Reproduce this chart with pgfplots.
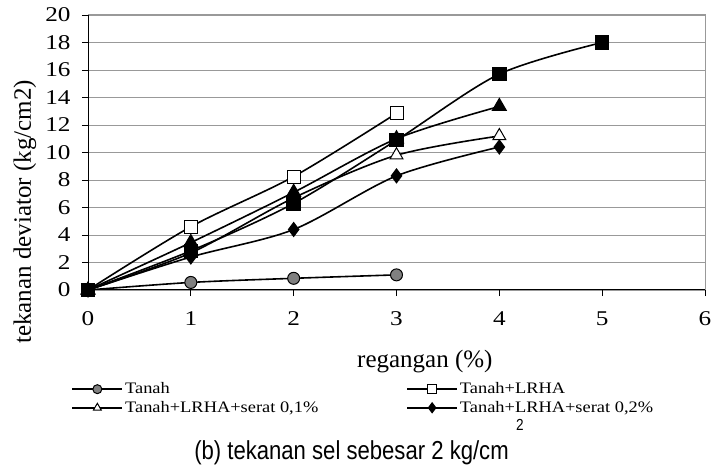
\documentclass[border=0pt]{standalone}
\usepackage{pgfplots}
\pgfplotsset{compat=1.18}
\usepackage{fontspec}
\setmainfont{Liberation Serif}
\newfontfamily\tickfont[FakeStretch=1.2]{Liberation Serif}
\newfontfamily\legfont[FakeStretch=1.15]{Liberation Serif}
\newfontfamily\capfont[FakeStretch=0.85]{Liberation Sans}
\begin{document}
\begin{tikzpicture}
\useasboundingbox (-88pt,-183pt) rectangle (623pt,290pt);
\begin{axis}[
  at={(0,0)}, anchor=south west,
  scale only axis, width=617pt, height=275pt,
  xmin=0, xmax=6, ymin=0, ymax=20,
  xtick={0,1,2,3,4,5,6}, ytick={0,2,...,20},
  tick pos=left, tick align=outside,
  major tick length=6pt,
  tick style={black, line width=0.8pt},
  ymajorgrids, grid style={gray!80, line width=0.9pt},
  axis line style={gray!80, line width=1pt},
  /pgf/number format/assume math mode=true,
  every tick label/.append style={font=\tickfont\fontsize{21}{25}\selectfont},
  every x tick label/.append style={yshift=-12pt},
  every y tick label/.append style={xshift=-8pt},
  xlabel={regangan (\%)},
  xlabel style={font=\fontsize{25}{30}\selectfont, at={(axis description cs:0.546,0)}, anchor=center, yshift=-72pt},
  legend columns=2,
  legend style={draw=none, fill=none, font=\legfont\fontsize{16}{19}\selectfont,
    at={(axis description cs:-0.027,-0.3945)}, anchor=west,
    inner sep=0pt, row sep=2pt,
    /tikz/every even column/.append style={column sep=86pt}},
  legend cell align=left,
  legend image code/.code={
    \draw[#1, mark=none] (0pt,0pt) -- (50pt,0pt);
    \draw[#1, only marks, mark size=4.5pt] plot coordinates {(25pt,0pt)};
  },
  every axis plot/.append style={line width=1.6pt, black, smooth},
]
\addplot[mark=*, mark size=6pt, mark options={fill=gray, draw=black, line width=1pt}]
  coordinates {(0,0) (1,0.55) (2,0.85) (3,1.1)};
\addlegendentry{Tanah}
\addplot[mark=square*, mark size=6.5pt, mark options={fill=white, draw=black, line width=1pt}]
  coordinates {(0,0) (1,4.6) (2,8.25) (3,12.85)};
\addlegendentry{Tanah+LRHA}
\addplot[mark=triangle*, mark size=7.5pt, mark options={fill=white, draw=black, line width=1pt}]
  coordinates {(0,0) (1,2.7) (2,6.7) (3,9.8) (4,11.2)};
\addlegendentry{Tanah+LRHA+serat 0,1\%}
\addplot[mark=diamond*, mark size=6.5pt, mark options={fill=black, draw=black}]
  coordinates {(0,0) (1,2.4) (2,4.4) (3,8.3) (4,10.4)};
\addlegendentry{Tanah+LRHA+serat 0,2\%}
\addplot[forget plot, mark=triangle*, mark size=7.5pt, mark options={fill=black, draw=black}]
  coordinates {(0,0) (1,3.45) (2,7.1) (3,11.0) (4,13.35)};
\addplot[forget plot, mark=square*, mark size=6.5pt, mark options={fill=black, draw=black}]
  coordinates {(0,0) (1,2.85) (2,6.3) (3,10.9) (4,15.7) (5,18.0)};
\draw[black, line width=1pt] (rel axis cs:0,1) -- (rel axis cs:0,0) -- (rel axis cs:1,0);
\end{axis}
\node[rotate=90, font=\fontsize{25}{30}\selectfont, anchor=center] at (-63pt,78pt) {tekanan deviator (kg/cm2)};
\node[font=\capfont\fontsize{26}{30}\selectfont, anchor=center] at (263.5pt,-163pt) {(b) tekanan sel sebesar 2 kg/cm};
\node[font=\capfont\fontsize{16}{18}\selectfont, anchor=center, inner sep=0pt] at (432pt,-135pt) {2};
\end{tikzpicture}
\end{document}
